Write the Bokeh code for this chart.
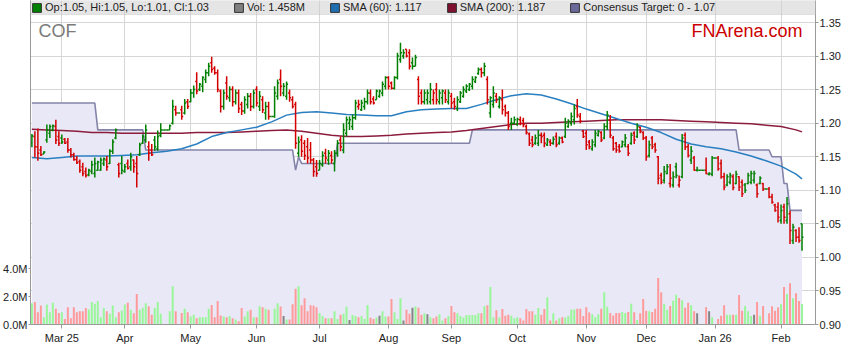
from bokeh.plotting import figure
from bokeh.models import (Range1d, LinearAxis, FixedTicker, PrintfTickFormatter, ColumnDataSource,
                          Legend, LegendItem, Label, BoxAnnotation)
from bokeh.embed import file_html
from bokeh.resources import INLINE

# ---------------- data (one entry per weekday, Feb 17 2025 .. Feb 10 2026) ----------------
opens = [
 1.171, 1.18, 1.165, 1.16, 1.154, 1.175, 1.185, 1.19, 1.195, 1.18,
 1.178, 1.176, 1.172, 1.16, 1.153, 1.146, 1.143, 1.135, 1.128, 1.123,
 1.128, 1.125, 1.13, 1.13, 1.14, 1.145, 1.14, 1.158, 1.178, 1.138,
 1.14, 1.128, 1.14, 1.135, 1.145, 1.14, 1.153, 1.17, 1.175, 1.165,
 1.16, 1.175, 1.162, 1.182, 1.19, 1.19, 1.19, 1.2, 1.22, 1.215,
 1.22, 1.215, 1.232, 1.232, 1.245, 1.262, 1.25, 1.255, 1.265, 1.275,
 1.29, 1.282, 1.275, 1.248, 1.225, 1.26, 1.238, 1.25, 1.232, 1.245,
 1.228, 1.218, 1.228, 1.24, 1.225, 1.25, 1.225, 1.235, 1.215, 1.225,
 1.21, 1.21, 1.24, 1.265, 1.245, 1.24, 1.245, 1.235, 1.228, 1.155,
 1.175, 1.17, 1.165, 1.16, 1.145, 1.135, 1.13, 1.138, 1.155, 1.145,
 1.152, 1.14, 1.155, 1.175, 1.16, 1.185, 1.2, 1.195, 1.208, 1.225,
 1.22, 1.225, 1.232, 1.245, 1.236, 1.235, 1.24, 1.245, 1.255, 1.268,
 1.26, 1.252, 1.268, 1.295, 1.3, 1.31, 1.305, 1.29, 1.285, 1.265,
 1.245, 1.232, 1.235, 1.232, 1.235, 1.25, 1.232, 1.238, 1.245, 1.232,
 1.24, 1.232, 1.222, 1.232, 1.24, 1.248, 1.25, 1.255, 1.262, 1.274,
 1.28, 1.275, 1.265, 1.215, 1.228, 1.24, 1.225, 1.235, 1.225, 1.215,
 1.2, 1.2, 1.198, 1.205, 1.204, 1.195, 1.184, 1.175, 1.17, 1.17,
 1.182, 1.182, 1.168, 1.172, 1.17, 1.18, 1.17, 1.178, 1.18, 1.195,
 1.2, 1.205, 1.225, 1.21, 1.188, 1.185, 1.172, 1.162, 1.168, 1.182,
 1.186, 1.178, 1.195, 1.205, 1.178, 1.17, 1.165, 1.165, 1.168, 1.165,
 1.17, 1.185, 1.18, 1.194, 1.186, 1.178, 1.152, 1.178, 1.168, 1.15,
 1.122, 1.115, 1.125, 1.11, 1.108, 1.135, 1.108, 1.12, 1.182, 1.165,
 1.145, 1.148, 1.13, 1.13, 1.13, 1.13, 1.124, 1.124, 1.148, 1.148,
 1.14, 1.12, 1.108, 1.112, 1.12, 1.11, 1.12, 1.112, 1.108, 1.11,
 1.112, 1.115, 1.108, 1.11, 1.11, 1.102, 1.102, 1.09, 1.078, 1.075,
 1.055, 1.075, 1.055, 1.065, 1.025, 1.04, 1.03, 1.05]
highs = [
 1.184, 1.188, 1.192, 1.166, 1.158, 1.198, 1.198, 1.198, 1.205, 1.188,
 1.183, 1.178, 1.178, 1.163, 1.156, 1.151, 1.146, 1.141, 1.134, 1.132,
 1.144, 1.149, 1.144, 1.149, 1.149, 1.151, 1.161, 1.176, 1.192, 1.141,
 1.151, 1.139, 1.146, 1.156, 1.146, 1.151, 1.171, 1.183, 1.198, 1.173,
 1.169, 1.181, 1.189, 1.2, 1.19, 1.19, 1.198, 1.235, 1.226, 1.215,
 1.226, 1.236, 1.236, 1.251, 1.256, 1.276, 1.26, 1.27, 1.28, 1.29,
 1.299, 1.285, 1.28, 1.25, 1.25, 1.27, 1.255, 1.255, 1.25, 1.25,
 1.232, 1.24, 1.245, 1.245, 1.25, 1.255, 1.248, 1.24, 1.232, 1.232,
 1.21, 1.255, 1.265, 1.28, 1.26, 1.262, 1.25, 1.24, 1.232, 1.18,
 1.182, 1.175, 1.178, 1.172, 1.148, 1.145, 1.145, 1.158, 1.162, 1.16,
 1.158, 1.16, 1.175, 1.18, 1.2, 1.21, 1.21, 1.213, 1.235, 1.235,
 1.235, 1.238, 1.25, 1.25, 1.24, 1.25, 1.25, 1.262, 1.27, 1.27,
 1.262, 1.27, 1.305, 1.32, 1.31, 1.31, 1.31, 1.298, 1.302, 1.27,
 1.25, 1.25, 1.25, 1.26, 1.25, 1.26, 1.25, 1.25, 1.25, 1.25,
 1.245, 1.238, 1.24, 1.248, 1.255, 1.258, 1.26, 1.27, 1.27, 1.283,
 1.283, 1.29, 1.27, 1.24, 1.255, 1.245, 1.24, 1.25, 1.228, 1.218,
 1.208, 1.21, 1.208, 1.21, 1.208, 1.198, 1.186, 1.181, 1.183, 1.19,
 1.186, 1.186, 1.178, 1.176, 1.18, 1.186, 1.18, 1.18, 1.208, 1.206,
 1.216, 1.228, 1.236, 1.215, 1.19, 1.19, 1.175, 1.176, 1.19, 1.19,
 1.188, 1.2, 1.218, 1.212, 1.181, 1.172, 1.169, 1.174, 1.184, 1.169,
 1.186, 1.188, 1.2, 1.195, 1.188, 1.181, 1.174, 1.181, 1.171, 1.151,
 1.126, 1.136, 1.139, 1.139, 1.128, 1.141, 1.122, 1.184, 1.186, 1.169,
 1.166, 1.151, 1.135, 1.13, 1.13, 1.149, 1.127, 1.151, 1.148, 1.151,
 1.146, 1.126, 1.124, 1.126, 1.124, 1.129, 1.121, 1.116, 1.111, 1.126,
 1.129, 1.129, 1.11, 1.121, 1.111, 1.102, 1.105, 1.095, 1.08, 1.082,
 1.079, 1.08, 1.09, 1.07, 1.05, 1.042, 1.045, 1.05]
lows = [
 1.164, 1.149, 1.144, 1.151, 1.154, 1.171, 1.178, 1.188, 1.169, 1.166,
 1.169, 1.169, 1.156, 1.149, 1.144, 1.139, 1.126, 1.121, 1.119, 1.121,
 1.124, 1.119, 1.129, 1.129, 1.136, 1.129, 1.139, 1.154, 1.176, 1.119,
 1.124, 1.126, 1.131, 1.129, 1.126, 1.104, 1.151, 1.169, 1.171, 1.144,
 1.151, 1.159, 1.159, 1.179, 1.19, 1.19, 1.19, 1.198, 1.211, 1.215,
 1.205, 1.213, 1.221, 1.231, 1.238, 1.243, 1.248, 1.246, 1.26, 1.27,
 1.275, 1.272, 1.246, 1.216, 1.22, 1.235, 1.232, 1.225, 1.228, 1.215,
 1.212, 1.214, 1.222, 1.218, 1.222, 1.225, 1.218, 1.215, 1.205, 1.205,
 1.21, 1.208, 1.235, 1.24, 1.24, 1.235, 1.232, 1.222, 1.162, 1.15,
 1.15, 1.145, 1.14, 1.14, 1.12, 1.12, 1.13, 1.135, 1.14, 1.138,
 1.14, 1.128, 1.15, 1.158, 1.155, 1.18, 1.19, 1.19, 1.205, 1.22,
 1.218, 1.22, 1.228, 1.228, 1.228, 1.235, 1.238, 1.24, 1.25, 1.25,
 1.25, 1.25, 1.265, 1.29, 1.296, 1.298, 1.28, 1.28, 1.285, 1.228,
 1.228, 1.228, 1.228, 1.228, 1.228, 1.228, 1.228, 1.228, 1.23, 1.228,
 1.222, 1.22, 1.218, 1.23, 1.238, 1.245, 1.248, 1.25, 1.26, 1.272,
 1.268, 1.27, 1.228, 1.208, 1.223, 1.23, 1.222, 1.213, 1.21, 1.19,
 1.19, 1.198, 1.196, 1.197, 1.194, 1.183, 1.166, 1.164, 1.168, 1.166,
 1.17, 1.164, 1.166, 1.166, 1.168, 1.164, 1.168, 1.17, 1.178, 1.193,
 1.196, 1.198, 1.208, 1.2, 1.178, 1.16, 1.161, 1.159, 1.164, 1.18,
 1.172, 1.176, 1.19, 1.178, 1.159, 1.156, 1.156, 1.164, 1.164, 1.151,
 1.168, 1.169, 1.178, 1.185, 1.175, 1.144, 1.149, 1.161, 1.156, 1.109,
 1.109, 1.11, 1.124, 1.104, 1.104, 1.118, 1.104, 1.118, 1.16, 1.149,
 1.139, 1.129, 1.128, 1.13, 1.13, 1.124, 1.122, 1.121, 1.148, 1.129,
 1.117, 1.1, 1.106, 1.109, 1.1, 1.109, 1.099, 1.09, 1.096, 1.109,
 1.109, 1.11, 1.089, 1.109, 1.099, 1.102, 1.088, 1.08, 1.068, 1.052,
 1.05, 1.05, 1.05, 1.02, 1.02, 1.023, 1.022, 1.01]
closes = [
 1.181, 1.165, 1.155, 1.153, 1.157, 1.19, 1.195, 1.196, 1.175, 1.17,
 1.172, 1.17, 1.16, 1.153, 1.146, 1.141, 1.13, 1.125, 1.122, 1.13,
 1.138, 1.14, 1.142, 1.145, 1.147, 1.135, 1.158, 1.172, 1.19, 1.125,
 1.13, 1.135, 1.133, 1.15, 1.135, 1.125, 1.168, 1.18, 1.19, 1.155,
 1.153, 1.165, 1.18, 1.19, 1.19, 1.19, 1.196, 1.225, 1.215, 1.215,
 1.21, 1.23, 1.225, 1.245, 1.25, 1.248, 1.258, 1.268, 1.275, 1.285,
 1.28, 1.275, 1.25, 1.225, 1.245, 1.24, 1.25, 1.232, 1.245, 1.222,
 1.218, 1.235, 1.24, 1.225, 1.245, 1.23, 1.24, 1.22, 1.225, 1.21,
 1.21, 1.245, 1.26, 1.255, 1.255, 1.258, 1.238, 1.225, 1.17, 1.172,
 1.158, 1.152, 1.148, 1.145, 1.128, 1.125, 1.14, 1.152, 1.148, 1.155,
 1.145, 1.155, 1.17, 1.165, 1.19, 1.205, 1.205, 1.208, 1.23, 1.228,
 1.23, 1.232, 1.245, 1.232, 1.23, 1.248, 1.248, 1.258, 1.268, 1.255,
 1.252, 1.268, 1.3, 1.305, 1.305, 1.3, 1.285, 1.285, 1.298, 1.24,
 1.232, 1.245, 1.245, 1.25, 1.245, 1.235, 1.245, 1.248, 1.235, 1.245,
 1.23, 1.225, 1.235, 1.245, 1.25, 1.255, 1.258, 1.265, 1.268, 1.28,
 1.275, 1.285, 1.235, 1.238, 1.245, 1.235, 1.238, 1.22, 1.215, 1.195,
 1.2, 1.205, 1.206, 1.2, 1.198, 1.186, 1.17, 1.168, 1.178, 1.182,
 1.18, 1.17, 1.175, 1.17, 1.176, 1.168, 1.178, 1.172, 1.2, 1.203,
 1.21, 1.222, 1.212, 1.203, 1.18, 1.168, 1.165, 1.172, 1.185, 1.188,
 1.175, 1.195, 1.212, 1.182, 1.162, 1.16, 1.158, 1.172, 1.178, 1.155,
 1.182, 1.175, 1.195, 1.188, 1.178, 1.15, 1.168, 1.165, 1.16, 1.118,
 1.112, 1.128, 1.135, 1.118, 1.12, 1.122, 1.115, 1.178, 1.165, 1.152,
 1.158, 1.13, 1.13, 1.13, 1.13, 1.125, 1.125, 1.148, 1.148, 1.132,
 1.12, 1.105, 1.12, 1.122, 1.104, 1.124, 1.105, 1.095, 1.1, 1.122,
 1.125, 1.125, 1.095, 1.118, 1.102, 1.102, 1.09, 1.082, 1.07, 1.06,
 1.07, 1.06, 1.08, 1.04, 1.045, 1.03, 1.025, 1.03]
volumes_m = [
 1.52, 1.6, 0.88, 1.36, 0.52, 1.43, 0.88, 1.55, 1.12, 0.83,
 0.88, 0.4, 1.24, 0.45, 1.24, 0.88, 0.95, 0.95, 1.17, 1.07,
 1.6, 1.48, 1.67, 0.52, 1.17, 0.95, 0.76, 1.36, 0.52, 0.88,
 1.0, 1.43, 1.55, 1.05, 0.81, 2.17, 1.05, 1.19, 1.52, 1.31,
 0.69, 1.17, 1.6, 0.76, 0, 0, 0.95, 2.74, 0.95, 0,
 0.83, 1.12, 0.88, 0.57, 0.69, 0.45, 0.52, 0.52, 0.52, 1.12,
 1.4, 0.52, 1.67, 0.64, 0.57, 0.52, 0.6, 0.45, 0.36, 0.24,
 1.17, 0.57, 0.95, 1.05, 0.52, 0.52, 1.31, 1.24, 1.12, 1.05,
 0, 1.12, 1.52, 1.29, 0.6, 0.36, 0.36, 1.45, 2.55, 2.74,
 1.38, 1.88, 0.95, 1.38, 1.36, 1.24, 0.83, 0.6, 0.45, 0.45,
 0.45, 0.95, 0.4, 0.69, 0.76, 1.26, 0.33, 0.67, 0.6, 0.52,
 0.6, 0.4, 1.4, 0.48, 0.4, 0.5, 0.62, 0.95, 0.57, 0.57,
 1.83, 0.88, 0.4, 1.88, 0.29, 1.05, 0.76, 1.19, 1.29, 1.2,
 0.7, 0.81, 0.74, 0.52, 0.45, 0.57, 0.74, 0.29, 0.45, 0.6,
 1.33, 0.88, 0.81, 0.6, 0.5, 0.67, 0.67, 0.67, 0.67, 0.81,
 0.81, 1.31, 1.38, 2.67, 0.52, 1.02, 0.52, 1.1, 0.62, 0.69,
 0.62, 0.45, 0.52, 0.45, 0.29, 1.1, 0.95, 0.95, 0.69, 1.17,
 0.69, 1.1, 1.95, 0.29, 0.81, 0.29, 0.45, 0.52, 0.5, 0.6,
 1.07, 1.07, 1.12, 1.12, 0.6, 1.24, 0.86, 0.74, 0.52, 0.74,
 1.12, 2.31, 1.26, 0.83, 0.64, 0.83, 0.83, 0.9, 0.83, 0.9,
 1.48, 0.88, 0.33, 0.81, 1.83, 0.98, 0.95, 0.9, 1.12, 3.33,
 2.31, 1.48, 1.05, 1.33, 1.69, 2.12, 1.9, 1.74, 1.19, 1.55,
 1.38, 0.95, 0.81, 0, 0, 1.24, 0.95, 0.52, 0, 0.4,
 0.62, 1.38, 0.69, 0.69, 0.69, 0.69, 2.1, 0.98, 1.33, 0.95,
 0.6, 0.69, 1.6, 0.62, 1.33, 0, 0.81, 1.31, 0.98, 1.24,
 1.45, 2.67, 2.17, 2.95, 1.88, 2.24, 1.67, 1.458]

sma_idx = [0, 5, 10, 15, 20, 25, 30, 35, 40, 45, 50, 55, 60, 65, 70, 75, 80, 85, 90, 95,
           100, 105, 110, 115, 120, 125, 130, 135, 140, 145, 150, 155, 160, 165, 170, 175,
           180, 185, 190, 195, 200, 205, 210, 215, 220, 225, 230, 235, 240, 245, 250, 255, 257]
sma60 = [1.149, 1.147, 1.149, 1.151, 1.151, 1.151, 1.152, 1.153, 1.156, 1.158, 1.162, 1.169,
         1.18, 1.186, 1.19, 1.194, 1.202, 1.212, 1.216, 1.217, 1.215, 1.213, 1.212, 1.211,
         1.211, 1.217, 1.22, 1.221, 1.222, 1.222, 1.228, 1.235, 1.241, 1.244, 1.242, 1.236,
         1.229, 1.221, 1.214, 1.207, 1.2, 1.194, 1.186, 1.176, 1.169, 1.165, 1.162, 1.157,
         1.151, 1.144, 1.136, 1.124, 1.117]
sma200 = [1.191, 1.19, 1.189, 1.188, 1.186, 1.186, 1.185, 1.185, 1.185, 1.185, 1.185, 1.186,
          1.186, 1.186, 1.187, 1.188, 1.189, 1.19, 1.188, 1.185, 1.182, 1.18, 1.18, 1.181,
          1.182, 1.184, 1.185, 1.186, 1.187, 1.189, 1.192, 1.195, 1.198, 1.2, 1.2, 1.201,
          1.202, 1.203, 1.204, 1.205, 1.205, 1.205, 1.205, 1.204, 1.203, 1.202, 1.201, 1.2,
          1.199, 1.197, 1.195, 1.19, 1.187]

target_idx = [0, 21, 22, 37, 38, 87, 88, 89, 90, 101, 102, 146, 147, 235, 236, 246, 247,
              250, 251, 252, 253, 257]
target_val = [1.23, 1.23, 1.19, 1.19, 1.16, 1.16, 1.13, 1.15, 1.14, 1.14, 1.17, 1.17, 1.19,
              1.19, 1.16, 1.16, 1.15, 1.15, 1.11, 1.11, 1.07, 1.07]

month_ticks = [10, 31, 53, 75, 96, 119, 140, 162, 185, 205, 228, 250]
month_labels = ["Mar 25", "Apr", "May", "Jun", "Jul", "Aug", "Sep", "Oct", "Nov", "Dec",
                "Jan 26", "Feb"]
price_ticks = [0.90, 0.95, 1.00, 1.05, 1.10, 1.15, 1.20, 1.25, 1.30, 1.35]
vol_ticks = [0, 2, 4]
vol_tick_labels = ["0.0M", "2.0M", "4.0M"]

# ---------------- styling ----------------
UP, DOWN = "#008000", "#d40000"
VUP, VDOWN, VFLAT = "#99f799", "#ff9a9a", "#858585"
FONT = "Liberation Sans"
W, H = 843, 347
BL, BR, BT, BB = 28, 26, 0, 23
FW, FH = W - BL - BR, H - BT - BB

n = len(closes)
xs = list(range(n))
prev = [opens[0]] + closes[:-1]
bar_colors = [UP if c >= pc else DOWN for c, pc in zip(closes, prev)]
vol_colors = [VUP if c > pc else (VDOWN if c < pc else VFLAT) for c, pc in zip(closes, prev)]

src = ColumnDataSource(dict(x=xs, xl=[v - 0.5 for v in xs], xr=[v + 0.5 for v in xs],
                            o=opens, h=highs, l=lows, c=closes, col=bar_colors,
                            vol=volumes_m, vcol=vol_colors))

p = figure(width=W, height=H, x_range=Range1d(-0.46, 261.5), y_range=Range1d(0.90, 1.3828),
           y_axis_location="right", output_backend="svg", toolbar_location=None,
           min_border_left=BL, min_border_right=BR, min_border_top=BT, min_border_bottom=BB,
           background_fill_color="white", border_fill_color="white", outline_line_color=None)
p.extra_y_ranges = {"vol": Range1d(0, FH / 14.0)}

# grid
p.xgrid.ticker = FixedTicker(ticks=month_ticks)
p.ygrid.ticker = FixedTicker(ticks=price_ticks)
for g in (p.xgrid, p.ygrid):
    g.grid_line_color = "#d6d6d6"
    g.grid_line_width = 1

# consensus target area + line
p.varea(x=target_idx, y1=0.80, y2=target_val, fill_color="#e8e8f6", fill_alpha=1)
p.line(target_idx, target_val, line_color="#8484aa", line_width=1.6)

# volume
p.vbar(x="x", top="vol", bottom=0, width=0.66, fill_color="vcol", line_color=None,
       y_range_name="vol", source=src)

# moving averages
p.line(sma_idx, sma200, line_color="#8c1c3d", line_width=1.5)
p.line(sma_idx, sma60, line_color="#2a7fc0", line_width=1.5)

# OHLC bars
p.segment(x0="x", y0="l", x1="x", y1="h", line_color="col", line_width=1.5, source=src)
p.segment(x0="xl", y0="o", x1="x", y1="o", line_color="col", line_width=1.5, source=src)
p.segment(x0="x", y0="c", x1="xr", y1="c", line_color="col", line_width=1.5, source=src)

# axes
xa = p.xaxis[0]
xa.ticker = FixedTicker(ticks=month_ticks)
xa.major_label_overrides = {t: lab for t, lab in zip(month_ticks, month_labels)}
ya = p.yaxis[0]
ya.ticker = FixedTicker(ticks=price_ticks)
ya.formatter = PrintfTickFormatter(format="%.2f")
va = LinearAxis(y_range_name="vol", ticker=FixedTicker(ticks=vol_ticks),
                major_label_overrides={t: s for t, s in zip(vol_ticks, vol_tick_labels)})
p.add_layout(va, "left")
for ax in (xa, ya, va):
    ax.axis_line_color = "#999999"
    ax.major_tick_line_color = "#999999"
    ax.minor_tick_line_color = None
    ax.major_tick_in = 0
    ax.major_label_text_font = FONT
    ax.major_label_text_font_size = "11px"
    ax.major_label_text_color = "#222222"
xa.major_tick_out = 4
xa.major_label_standoff = 3
ya.major_tick_out = 3
ya.major_label_standoff = 1
va.major_tick_out = 2
va.major_label_standoff = 1

# legend bar background
p.add_layout(BoxAnnotation(left=0, right=FW, bottom=FH - 14, top=FH,
                           left_units="screen", right_units="screen",
                           bottom_units="screen", top_units="screen",
                           fill_color="#cfcfcf", fill_alpha=0.55,
                           line_color="#b4b4b4", line_width=1))

# titles
p.add_layout(Label(x=8, y=FH - 30, x_units="screen", y_units="screen", text="COF",
                   text_font=FONT, text_font_size="18px", text_color="#7a7a7a",
                   text_baseline="alphabetic"))
p.add_layout(Label(x=FW - 17, y=FH - 30, x_units="screen", y_units="screen",
                   text="FNArena.com", text_font=FONT, text_font_size="18px",
                   text_color="#cc0000", text_align="right", text_baseline="alphabetic"))

# legend (dummy swatches placed outside the visible range)
def swatch(color):
    return p.quad(left=[-50], right=[-49], top=[1.0], bottom=[0.95],
                  fill_color=color, line_color="#333333", line_width=1)

items = [
    LegendItem(label=f"Op:{opens[-1]:.2f}, Hi:{highs[-1]:.2f}, Lo:{lows[-1]:.2f}, Cl:{closes[-1]:.2f}",
               renderers=[swatch(UP)]),
    LegendItem(label=f"Vol: {volumes_m[-1]:.3f}M", renderers=[swatch("#808080")]),
    LegendItem(label=f"SMA (60): {sma60[-1]:.3f}", renderers=[swatch("#1f6fb0")]),
    LegendItem(label=f"SMA (200): {sma200[-1]:.3f}", renderers=[swatch("#801030")]),
    LegendItem(label=f"Consensus Target: 0 - {target_val[-1]:.2f}", renderers=[swatch("#6a6a9a")]),
]
legend = Legend(items=items, location="top_left", orientation="horizontal", margin=1,
                padding=2, spacing=24, glyph_width=11, glyph_height=11, label_standoff=3,
                label_height=11, label_text_font=FONT, label_text_font_size="11px",
                label_text_color="#222222", background_fill_alpha=0,
                border_line_color=None)
p.add_layout(legend)

open("out.html", "w").write(file_html(p, INLINE))
